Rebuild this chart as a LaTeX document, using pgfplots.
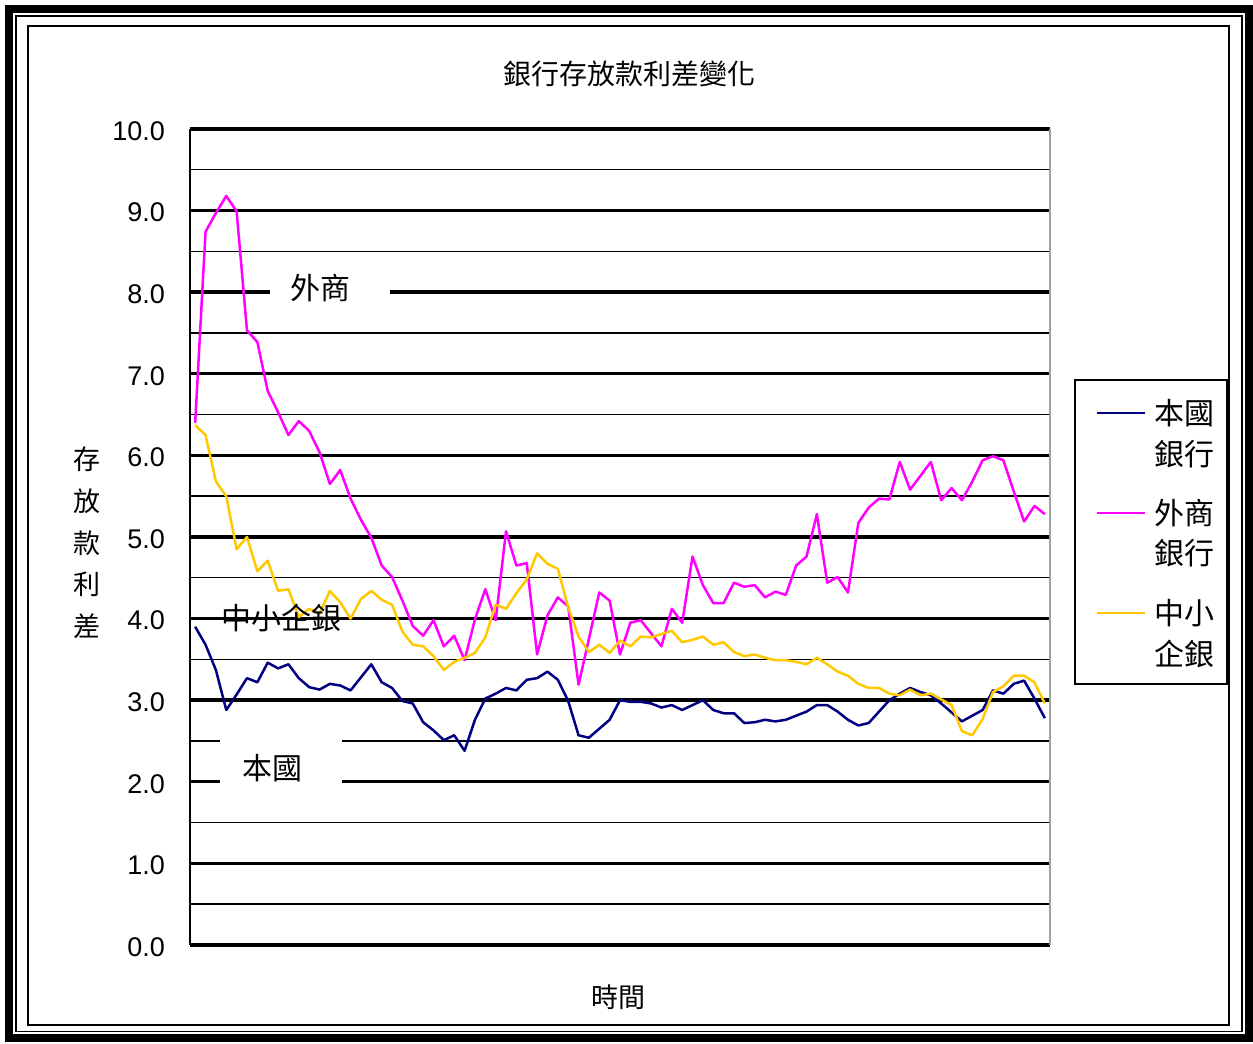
\documentclass[border=0pt]{standalone}
\usepackage{fontspec}
\setmainfont{Liberation Sans}
\newfontfamily\cjk{Noto Sans CJK TC}
\usepackage{pgfplots}
\usepackage{pgfplotstable}
\pgfplotsset{compat=1.18}
\definecolor{navyc}{HTML}{000080}
\definecolor{magc}{HTML}{FF00FF}
\definecolor{goldc}{HTML}{FFC800}
\definecolor{grayc}{HTML}{A0A0A0}
\begin{document}
\pgfplotstableread{
x a b c
0 3.90 6.40 6.37
1 3.68 8.74 6.25
2 3.37 8.97 5.68
3 2.88 9.18 5.50
4 3.07 8.99 4.85
5 3.27 7.53 5.00
6 3.22 7.39 4.58
7 3.46 6.79 4.71
8 3.39 6.53 4.34
9 3.44 6.25 4.36
10 3.27 6.42 4.02
11 3.16 6.30 4.12
12 3.13 6.04 4.06
13 3.20 5.65 4.34
14 3.18 5.82 4.20
15 3.12 5.47 4.00
16 3.28 5.21 4.24
17 3.44 4.99 4.34
18 3.22 4.65 4.23
19 3.15 4.51 4.17
20 2.99 4.22 3.84
21 2.96 3.91 3.68
22 2.73 3.79 3.66
23 2.63 3.98 3.54
24 2.51 3.66 3.37
25 2.57 3.79 3.47
26 2.38 3.49 3.52
27 2.76 3.99 3.58
28 3.02 4.36 3.77
29 3.08 3.98 4.17
30 3.15 5.07 4.12
31 3.12 4.65 4.31
32 3.25 4.68 4.48
33 3.27 3.56 4.80
34 3.35 4.04 4.67
35 3.25 4.26 4.61
36 2.99 4.15 4.14
37 2.57 3.19 3.78
38 2.54 3.75 3.59
39 2.65 4.32 3.68
40 2.76 4.22 3.58
41 3.00 3.56 3.73
42 2.98 3.95 3.66
43 2.98 3.98 3.78
44 2.96 3.82 3.77
45 2.91 3.66 3.81
46 2.94 4.12 3.85
47 2.88 3.95 3.71
48 2.94 4.76 3.74
49 3.00 4.41 3.78
50 2.88 4.19 3.68
51 2.84 4.19 3.71
52 2.84 4.44 3.59
53 2.72 4.39 3.54
54 2.73 4.41 3.56
55 2.76 4.26 3.52
56 2.74 4.33 3.49
57 2.76 4.29 3.49
58 2.81 4.65 3.47
59 2.86 4.76 3.44
60 2.94 5.28 3.52
61 2.94 4.44 3.44
62 2.86 4.51 3.35
63 2.76 4.32 3.30
64 2.69 5.17 3.20
65 2.72 5.36 3.15
66 2.86 5.47 3.15
67 3.00 5.46 3.08
68 3.08 5.92 3.06
69 3.15 5.58 3.13
70 3.10 5.75 3.06
71 3.06 5.92 3.08
72 2.96 5.45 3.01
73 2.85 5.60 2.94
74 2.74 5.45 2.62
75 2.81 5.68 2.57
76 2.88 5.94 2.77
77 3.12 5.99 3.10
78 3.08 5.94 3.17
79 3.20 5.56 3.30
80 3.24 5.19 3.30
81 3.02 5.38 3.22
82 2.78 5.28 2.96
}\data
\begin{tikzpicture}[x=0.5pt,y=0.5pt]
\useasboundingbox (0,0) rectangle (1253,1044);
% outer frames
\draw[line width=4.15pt] (9.2,1035) rectangle (1249,6);
\draw[line width=0.85pt] (15.9,1028.1) rectangle (1242,12.5);
\draw[line width=1pt] (27.5,1017.5) rectangle (1229,19);
\begin{axis}[
  at={(95pt,49.5pt)}, anchor=south west,
  scale only axis, width=430pt, height=408pt,
  xmin=-0.5, xmax=82.5, ymin=0, ymax=10,
  xtick=\empty,
  ytick={0,1,...,10},
  minor ytick={0.5,1.5,...,9.5},
  ymajorgrids, yminorgrids,
  major grid style={black, line width=1.7pt},
  minor grid style={black, line width=0.7pt},
  major tick length=0pt, minor tick length=0pt,
  axis line style={draw=none},
  clip=false,
  yticklabel style={font=\fontsize{13.5}{16}\selectfont, xshift=-9pt, yshift=-1pt},
  /pgf/number format/.cd, fixed, fixed zerofill, precision=1, assume math mode=true,
  /pgfplots/.cd,
  title={銀行存放款利差變化},
  title style={at={(0.511,1.0527)}, anchor=center, font=\cjk\fontsize{14}{16}\selectfont},
  xlabel={時間},
  xlabel style={at={(0.4988,-0.0637)}, anchor=center, font=\cjk\fontsize{13.5}{16}\selectfont},
  ylabel={存\\放\\款\\利\\差},
  ylabel style={rotate=-90, at={(-0.1198,0.4926)}, anchor=center, align=center, font=\cjk\fontsize{13.5}{20.85}\selectfont},
]
\draw[black, line width=1pt] (rel axis cs:0,0) -- (rel axis cs:0,1);
\draw[grayc, line width=1pt] (rel axis cs:1,0) -- (rel axis cs:1,1);
\addplot[navyc, line width=1.25pt, line join=round] table[x=x,y=a]{\data};
\addplot[magc, line width=1.25pt, line join=round] table[x=x,y=b]{\data};
\addplot[goldc, line width=1.25pt, line join=round] table[x=x,y=c]{\data};
\end{axis}
% in-chart labels
\fill[white] (270,722) rectangle (390,782);
\node[font=\cjk\fontsize{15}{18}\selectfont] at (320,756) {外商};
\fill[white] (220,244) rectangle (342,309);
\node[font=\cjk\fontsize{15}{18}\selectfont] at (272,276) {本國};
\node[font=\cjk\fontsize{15}{18}\selectfont] at (281,426) {中小企銀};
% legend
\draw[line width=0.75pt, fill=white] (1075,360) rectangle (1227,664);
\draw[navyc, line width=1.2pt] (1097,631) -- (1145,631);
\draw[magc, line width=1.2pt] (1097,531) -- (1145,531);
\draw[goldc, line width=1.2pt] (1097,431) -- (1145,431);
\node[anchor=west, inner sep=0pt, align=left, font=\cjk\fontsize{15}{20.25}\selectfont] at (1154,610.5) {本國\\銀行};
\node[anchor=west, inner sep=0pt, align=left, font=\cjk\fontsize{15}{20.25}\selectfont] at (1154,511) {外商\\銀行};
\node[anchor=west, inner sep=0pt, align=left, font=\cjk\fontsize{15}{20.25}\selectfont] at (1154,410.5) {中小\\企銀};
\end{tikzpicture}
\end{document}
